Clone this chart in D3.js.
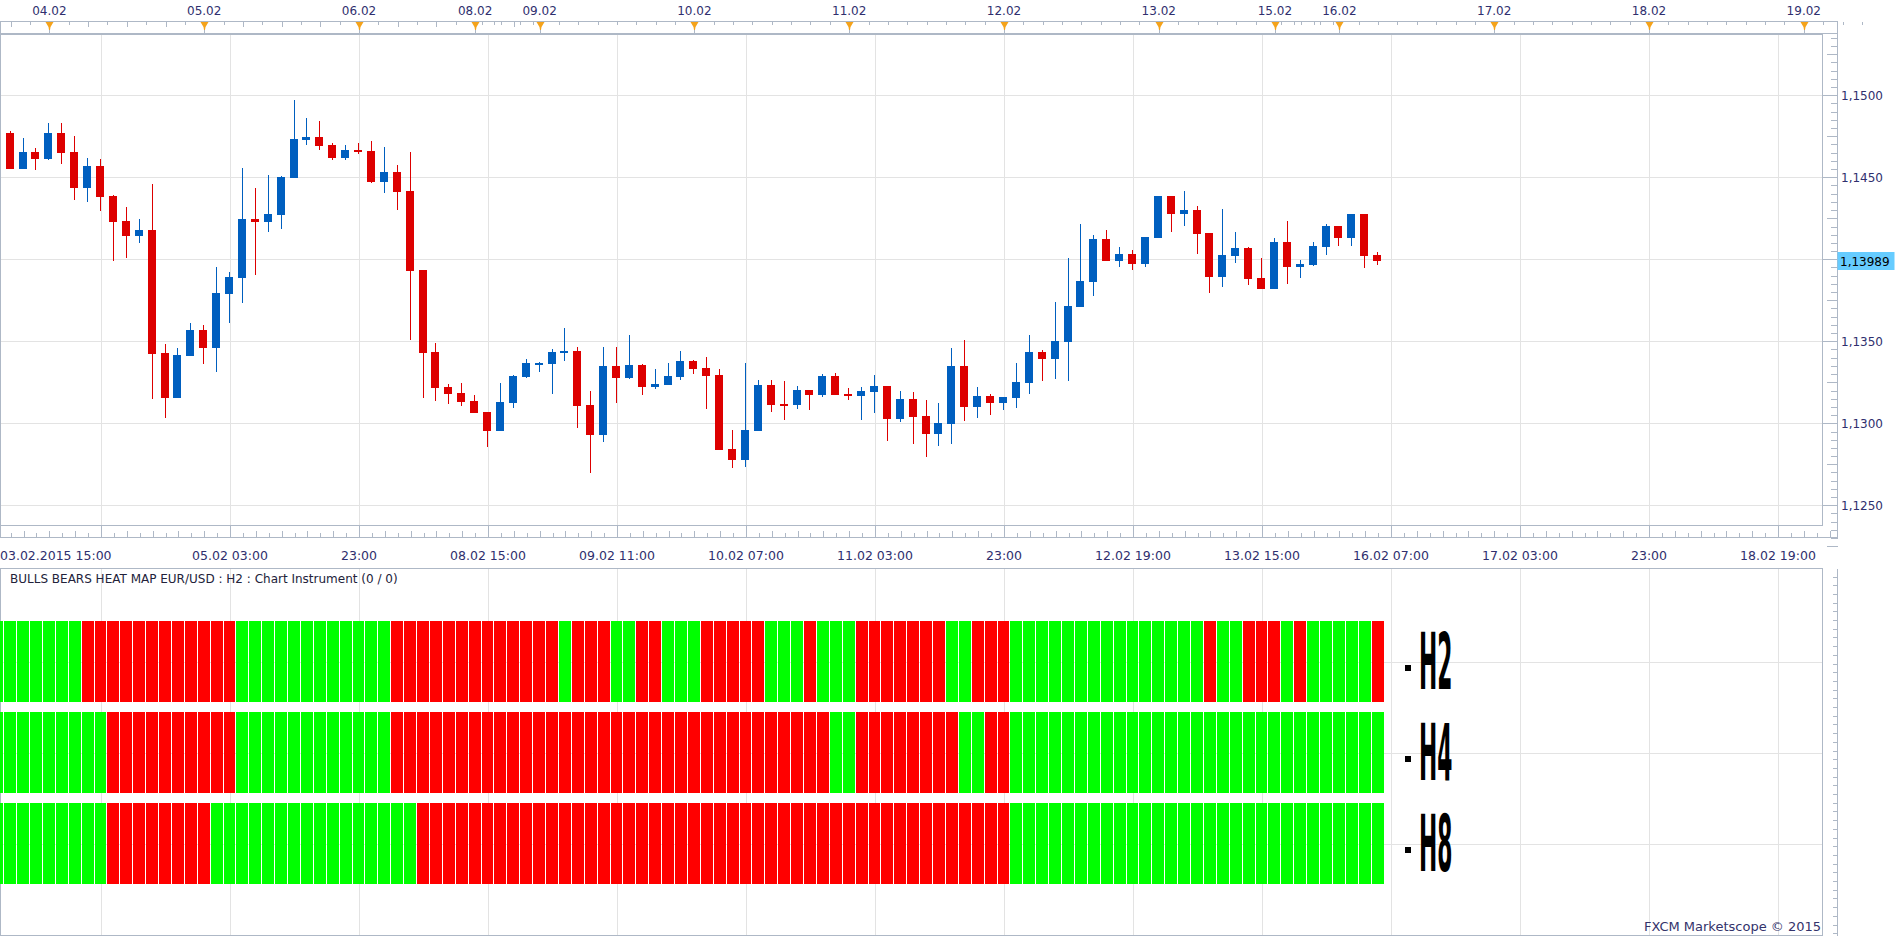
<!DOCTYPE html>
<meta charset="utf-8">
<script src="https://d3js.org/d3.v7.min.js"></script>
<style>
  body { margin: 0; background: #fff; }
  text { font-family: "DejaVu Sans", Verdana, sans-serif; }
</style>
<body>
<div id="chart"></div>
<script>

// EUR/USD H2 bars, bar 0 = 03.02.2015 15:00
var open = [1.14870,1.14770,1.14553,1.14654,1.14614,1.14770,1.14654,1.14437,1.14569,1.14386,
  1.14234,1.14144,1.14179,1.13429,1.13156,1.13412,1.13569,1.13461,1.13790,1.13888,
  1.14246,1.14230,1.14272,1.14498,1.14727,1.14746,1.14697,1.14620,1.14666,1.14660,
  1.14473,1.14532,1.14417,1.13935,1.13435,1.13221,1.13185,1.13136,1.13069,1.12955,
  1.13126,1.13284,1.13362,1.13364,1.13431,1.13441,1.13112,1.12931,1.13349,1.13278,
  1.13356,1.13223,1.13236,1.13284,1.13380,1.13337,1.13295,1.12843,1.12778,1.12955,
  1.13234,1.13120,1.13114,1.13203,1.13175,1.13288,1.13179,1.13169,1.13193,1.13227,
  1.13028,1.13148,1.13045,1.12937,1.12998,1.13349,1.13101,1.13166,1.13126,1.13156,
  1.13248,1.13435,1.13394,1.13498,1.13711,1.13864,1.14124,1.13992,1.14032,1.13973,
  1.14132,1.14386,1.14278,1.14301,1.14160,1.13894,1.14022,1.14069,1.13886,1.13821,
  1.14106,1.13955,1.13967,1.14077,1.14203,1.14132,1.14276,1.14026];
var high = [1.14874,1.14782,1.14740,1.14679,1.14831,1.14831,1.14752,1.14618,1.14612,1.14392,
  1.14319,1.14246,1.14459,1.13484,1.13459,1.13612,1.13599,1.13955,1.13923,1.14557,
  1.14435,1.14514,1.14508,1.14971,1.14862,1.14843,1.14709,1.14697,1.14709,1.14721,
  1.14685,1.14575,1.14654,1.13935,1.13490,1.13240,1.13246,1.13173,1.13069,1.13246,
  1.13295,1.13392,1.13374,1.13453,1.13581,1.13465,1.13197,1.13465,1.13465,1.13538,
  1.13362,1.13331,1.13368,1.13441,1.13386,1.13404,1.13331,1.12959,1.13368,1.13264,
  1.13264,1.13258,1.13227,1.13203,1.13301,1.13307,1.13215,1.13221,1.13295,1.13227,
  1.13197,1.13191,1.13142,1.13126,1.13461,1.13510,1.13223,1.13181,1.13160,1.13368,
  1.13538,1.13447,1.13740,1.14008,1.14215,1.14148,1.14179,1.14075,1.14057,1.14136,
  1.14386,1.14386,1.14417,1.14325,1.14160,1.14307,1.14166,1.14075,1.14008,1.14130,
  1.14234,1.13996,1.14106,1.14215,1.14203,1.14276,1.14276,1.14044];
var low = [1.14764,1.14553,1.14553,1.14547,1.14606,1.14583,1.14364,1.14351,1.14297,1.13992,
  1.14010,1.14101,1.13150,1.13034,1.13156,1.13412,1.13364,1.13315,1.13614,1.13736,
  1.13906,1.14169,1.14187,1.14498,1.14699,1.14669,1.14608,1.14608,1.14644,1.14467,
  1.14406,1.14303,1.13510,1.13156,1.13138,1.13120,1.13108,1.13065,1.12858,1.12955,
  1.13095,1.13278,1.13315,1.13181,1.13382,1.12973,1.12699,1.12888,1.13126,1.13272,
  1.13175,1.13211,1.13236,1.13266,1.13303,1.13089,1.12839,1.12730,1.12736,1.12955,
  1.13071,1.13022,1.13089,1.13083,1.13162,1.13175,1.13144,1.13022,1.13065,1.12894,
  1.13010,1.12876,1.12797,1.12864,1.12876,1.13016,1.13034,1.13053,1.13083,1.13095,
  1.13181,1.13260,1.13272,1.13260,1.13711,1.13778,1.13992,1.13955,1.13937,1.13955,
  1.14132,1.14169,1.14205,1.14034,1.13797,1.13833,1.13979,1.13845,1.13821,1.13821,
  1.13851,1.13888,1.13961,1.14028,1.14083,1.14083,1.13949,1.13967];
var close = [1.14768,1.14553,1.14654,1.14614,1.14770,1.14650,1.14437,1.14569,1.14382,1.14230,
  1.14144,1.14179,1.13425,1.13156,1.13417,1.13569,1.13461,1.13795,1.13892,1.14246,
  1.14230,1.14276,1.14502,1.14734,1.14746,1.14693,1.14620,1.14666,1.14654,1.14473,
  1.14532,1.14412,1.13931,1.13431,1.13217,1.13181,1.13132,1.13065,1.12955,1.13130,
  1.13288,1.13368,1.13368,1.13435,1.13441,1.13108,1.12931,1.13349,1.13278,1.13356,
  1.13223,1.13240,1.13288,1.13380,1.13333,1.13290,1.12839,1.12778,1.12959,1.13234,
  1.13114,1.13114,1.13203,1.13175,1.13288,1.13175,1.13169,1.13197,1.13227,1.13028,
  1.13148,1.13040,1.12937,1.13004,1.13349,1.13101,1.13166,1.13126,1.13160,1.13252,
  1.13435,1.13394,1.13502,1.13715,1.13868,1.14124,1.13992,1.14032,1.13973,1.14136,
  1.14386,1.14278,1.14301,1.14156,1.13894,1.14026,1.14069,1.13882,1.13821,1.14106,
  1.13955,1.13973,1.14081,1.14203,1.14132,1.14276,1.14022,1.13989];

// heat map, 1 = bulls (green), 0 = bears (red), one cell per bar
var heatH2 = [1,1,1,1,1,1,1,0,0,0, 0,0,0,0,0,0,0,0,0,1, 1,1,1,1,1,1,1,1,1,1, 1,0,0,0,0,0,0,0,0,0,
  0,0,0,0,1,0,0,0,1,1, 0,0,1,1,1,0,0,0,0,0, 1,1,1,0,1,1,1,0,0,0, 0,0,0,0,1,1,0,0,0,1,
  1,1,1,1,1,1,1,1,1,1, 1,1,1,1,0,1,1,0,0,0, 1,0,1,1,1,1,1,0];
var heatH4 = [1,1,1,1,1,1,1,1,1,0, 0,0,0,0,0,0,0,0,0,1, 1,1,1,1,1,1,1,1,1,1, 1,0,0,0,0,0,0,0,0,0,
  0,0,0,0,0,0,0,0,0,0, 0,0,0,0,0,0,0,0,0,0, 0,0,0,0,0,1,1,0,0,0, 0,0,0,0,0,1,1,0,0,1,
  1,1,1,1,1,1,1,1,1,1, 1,1,1,1,1,1,1,1,1,1, 1,1,1,1,1,1,1,1];
var heatH8 = [1,1,1,1,1,1,1,1,1,0, 0,0,0,0,0,0,0,1,1,1, 1,1,1,1,1,1,1,1,1,1, 1,1,1,0,0,0,0,0,0,0,
  0,0,0,0,0,0,0,0,0,0, 0,0,0,0,0,0,0,0,0,0, 0,0,0,0,0,0,0,0,0,0, 0,0,0,0,0,0,0,0,0,1,
  1,1,1,1,1,1,1,1,1,1, 1,1,1,1,1,1,1,1,1,1, 1,1,1,1,1,1,1,1];
var heatRows = ["H2", "H4", "H8"];

// price grid, and the labelled prices (1,1400 is hidden by the last price box)
var priceTicks = [1.125, 1.130, 1.135, 1.140, 1.145, 1.150];
var labelPrices = [1.125, 1.130, 1.135, 1.145, 1.150];
var priceLabels = ["1,1250", "1,1300", "1,1350", "1,1450", "1,1500"];
var lastPrice = 1.13989, lastLabel = "1,13989";

// day markers on the top scale (bar position) and the bottom time labels
var dayBars = [4, 16, 28, 37, 42, 54, 66, 78, 90, 99, 104, 116, 128, 140];
var dayLabels = ["04.02", "05.02", "06.02", "08.02", "09.02", "10.02", "11.02",
  "12.02", "13.02", "15.02", "16.02", "17.02", "18.02", "19.02"];
var timeBars = [0, 18, 28, 38, 48, 58, 68, 78, 88, 98, 108, 118, 128, 138];
var timeLabels = ["03.02.2015 15:00", "05.02 03:00", "23:00", "08.02 15:00", "09.02 11:00",
  "10.02 07:00", "11.02 03:00", "23:00", "12.02 19:00", "13.02 15:00", "16.02 07:00",
  "17.02 03:00", "23:00", "18.02 19:00"];

var width = 1903, height = 937;
var plot = {left: 0.5, right: 1822.5, top: 34.5, bottom: 525.5};
var panel = {top: 568.5, bottom: 935.5};
var axisX = 1837.5;
var gridColor = "#e3e3e3", frameColor = "#aeb8c6", textColor = "#2f2f6e";
var bearColor = "#dd0000", bullColor = "#005fbf";

var svg = d3.select("#chart").append("svg")
  .attr("width", width).attr("height", height);

var x = d3.scaleLinear().domain([0, 1]).range([-2.2, 10.7]);
var y = d3.scaleLinear().domain([1.125, 1.15]).range([505.3, 95.3]);
var bars = d3.range(open.length);
var gridBars = d3.range(8, 141, 10);
var px = function(v) { return Math.round(v) + 0.5; };

// ---- grid lines
var grid = svg.append("g").attr("stroke", gridColor).attr("shape-rendering", "crispEdges");
grid.selectAll(".vg").data(gridBars).join("line")
  .attr("x1", d => px(x(d))).attr("x2", d => px(x(d)))
  .attr("y1", plot.top).attr("y2", plot.bottom);
grid.selectAll(".vh").data(gridBars).join("line")
  .attr("x1", d => px(x(d))).attr("x2", d => px(x(d)))
  .attr("y1", panel.top).attr("y2", panel.bottom);
grid.selectAll(".hg").data(priceTicks).join("line")
  .attr("x1", plot.left).attr("x2", plot.right)
  .attr("y1", d => px(y(d))).attr("y2", d => px(y(d)));

// ---- candles
svg.append("clipPath").attr("id", "plotclip").append("rect")
  .attr("x", plot.left).attr("y", plot.top)
  .attr("width", plot.right - plot.left).attr("height", plot.bottom - plot.top);
var candles = svg.append("g").attr("clip-path", "url(#plotclip)")
  .attr("shape-rendering", "crispEdges");
var colorOf = i => close[i] >= open[i] ? bullColor : bearColor;
candles.selectAll(".wick").data(bars).join("rect")
  .attr("x", i => Math.round(x(i)) - 1).attr("width", 1)
  .attr("y", i => Math.round(y(high[i])))
  .attr("height", i => Math.max(1, Math.round(y(low[i])) - Math.round(y(high[i]))))
  .attr("fill", colorOf);
candles.selectAll(".body").data(bars).join("rect")
  .attr("x", i => Math.round(x(i)) - 5).attr("width", 8)
  .attr("y", i => Math.round(y(Math.max(open[i], close[i]))))
  .attr("height", i => Math.max(2, Math.round(y(Math.min(open[i], close[i]))) - Math.round(y(Math.max(open[i], close[i])))))
  .attr("fill", colorOf);

// ---- frames
var frames = svg.append("g").attr("fill", "none").attr("stroke", frameColor)
  .attr("shape-rendering", "crispEdges");
frames.append("rect").attr("x", plot.left).attr("y", plot.top)
  .attr("width", plot.right - plot.left).attr("height", plot.bottom - plot.top);
frames.append("rect").attr("x", plot.left).attr("y", 21.5)
  .attr("width", axisX - plot.left).attr("height", 12);
frames.append("line").attr("x1", plot.left).attr("x2", axisX)
  .attr("y1", 537.5).attr("y2", 537.5);
frames.append("line").attr("x1", axisX).attr("x2", axisX)
  .attr("y1", 21.5).attr("y2", 537.5);
frames.append("line").attr("x1", plot.left).attr("x2", plot.left)
  .attr("y1", plot.bottom).attr("y2", 537.5);
frames.append("rect").attr("x", plot.left).attr("y", panel.top)
  .attr("width", plot.right - plot.left).attr("height", panel.bottom - panel.top);
frames.append("line").attr("x1", axisX).attr("x2", axisX)
  .attr("y1", panel.top).attr("y2", panel.bottom);

// ---- right price axis
var minorPrices = d3.range(11225, 11540, 5).map(d => d / 10000);
frames.selectAll(".pt").data(minorPrices).join("line")
  .attr("x1", d => Math.round(d * 10000) % 25 === 0 ? 1827 : 1831).attr("x2", axisX)
  .attr("y1", d => px(y(d))).attr("y2", d => px(y(d)));
frames.selectAll(".pm").data(priceTicks).join("line")
  .attr("x1", plot.right).attr("x2", axisX)
  .attr("y1", d => px(y(d))).attr("y2", d => px(y(d)));
svg.append("g").selectAll("text").data(labelPrices).join("text")
  .attr("x", 1841).attr("y", d => y(d) + 4.5)
  .attr("font-size", 12).attr("fill", textColor)
  .text((d, i) => priceLabels[i]);
svg.append("rect").attr("x", axisX).attr("y", Math.round(y(lastPrice)) - 9)
  .attr("width", 57).attr("height", 18).attr("fill", "#66ccff");
svg.append("text").attr("x", 1840).attr("y", y(lastPrice) + 4.5)
  .attr("font-size", 12).attr("fill", "#000").text(lastLabel);

// heat panel right ticks
frames.selectAll(".ht").data(d3.range(panel.top + 8, panel.bottom, 8.7)).join("line")
  .attr("x1", 1833).attr("x2", axisX)
  .attr("y1", d => px(d)).attr("y2", d => px(d));

// ---- top time scale
var topTicks = [].concat(
  d3.range(-2, 42, 1.5),
  d3.range(42, 104, 1.5), d3.range(40.5, 37, -1.5),
  d3.range(104, 146, 1.5), d3.range(102.5, 99, -1.5));
frames.selectAll(".tt").data(topTicks).join("line")
  .attr("x1", d => px(x(d))).attr("x2", d => px(x(d)))
  .attr("y1", 21.5).attr("y2", d => (d % 3 === 1 || d % 3 === -2) ? 27 : 25);
frames.selectAll(".tm").data(dayBars).join("line")
  .attr("x1", d => px(x(d))).attr("x2", d => px(x(d)))
  .attr("y1", 21.5).attr("y2", 33.5);
svg.append("g").selectAll("path").data(dayBars).join("path")
  .attr("d", d => {
    var cx = Math.round(x(d)) + 0.5;
    return "M" + (cx - 4) + ",22 L" + (cx + 4) + ",22 L" + (cx + 1) + ",27 L" + (cx + 0.5) + ",30 L" + (cx - 0.5) + ",30 L" + (cx - 1) + ",27 Z";
  })
  .attr("fill", "#f5a31a");
svg.append("g").selectAll("text").data(dayBars).join("text")
  .attr("x", d => x(d)).attr("y", 15)
  .attr("text-anchor", "middle").attr("font-size", 12).attr("fill", textColor)
  .text((d, i) => dayLabels[i]);

// ---- bottom time scale
frames.selectAll(".bt").data(d3.range(0, 143)).join("line")
  .attr("x1", d => px(x(d))).attr("x2", d => px(x(d)))
  .attr("y1", d => (d - 8) % 10 === 0 ? plot.bottom : (d % 2 === 0 ? 531 : 533))
  .attr("y2", 537.5);
svg.append("g").selectAll("text").data(timeBars).join("text")
  .attr("x", d => d === 0 ? 0 : x(d)).attr("y", 560)
  .attr("text-anchor", d => d === 0 ? "start" : "middle")
  .attr("font-size", 12.5).attr("fill", textColor)
  .text((d, i) => timeLabels[i]);

// ---- heat map panel
svg.append("text").attr("x", 10).attr("y", 583)
  .attr("font-size", 12).attr("fill", "#22223a")
  .text("BULLS BEARS HEAT MAP EUR/USD : H2 : Chart Instrument (0 / 0)");

var row = d3.scaleBand().domain(heatRows).range([621, 884]).paddingInner(10 / 91);
var heatData = {H2: heatH2, H4: heatH4, H8: heatH8};

grid.selectAll(".rg").data(heatRows).join("line")
  .attr("x1", plot.left).attr("x2", plot.right)
  .attr("y1", d => px(row(d) + row.bandwidth() / 2))
  .attr("y2", d => px(row(d) + row.bandwidth() / 2));

var rows = svg.append("g").selectAll("g").data(heatRows).join("g")
  .attr("shape-rendering", "crispEdges");
rows.selectAll("rect").data(r => heatData[r].map((v, i) => ({r: r, i: i, v: v}))).join("rect")
  .attr("x", d => Math.max(0, Math.round(x(d.i) - 6.45)))
  .attr("width", d => Math.round(x(d.i + 1) - 6.45) - Math.max(0, Math.round(x(d.i) - 6.45)) - 1)
  .attr("y", d => row(d.r)).attr("height", row.bandwidth())
  .attr("fill", d => d.v ? "#00ff00" : "#ff0000");

var labels = svg.append("g").selectAll("g").data(heatRows).join("g");
labels.append("rect")
  .attr("x", 1405).attr("y", d => Math.round(row(d) + row.bandwidth() / 2) + 3)
  .attr("width", 6).attr("height", 6).attr("fill", "#000");
labels.append("text")
  .attr("transform", d => "translate(1419," + (row(d) + row.bandwidth() / 2 + 27) + ") scale(0.28,1)")
  .attr("font-family", "Liberation Sans, Arial, sans-serif")
  .attr("font-weight", "bold")
  .attr("font-size", 78).attr("fill", "#000")
  .text(d => d);

svg.append("text").attr("x", 1821).attr("y", 931)
  .attr("text-anchor", "end").attr("font-size", 13).attr("fill", "#33336b")
  .text("FXCM Marketscope \u00a9 2015");

</script>
</body>
